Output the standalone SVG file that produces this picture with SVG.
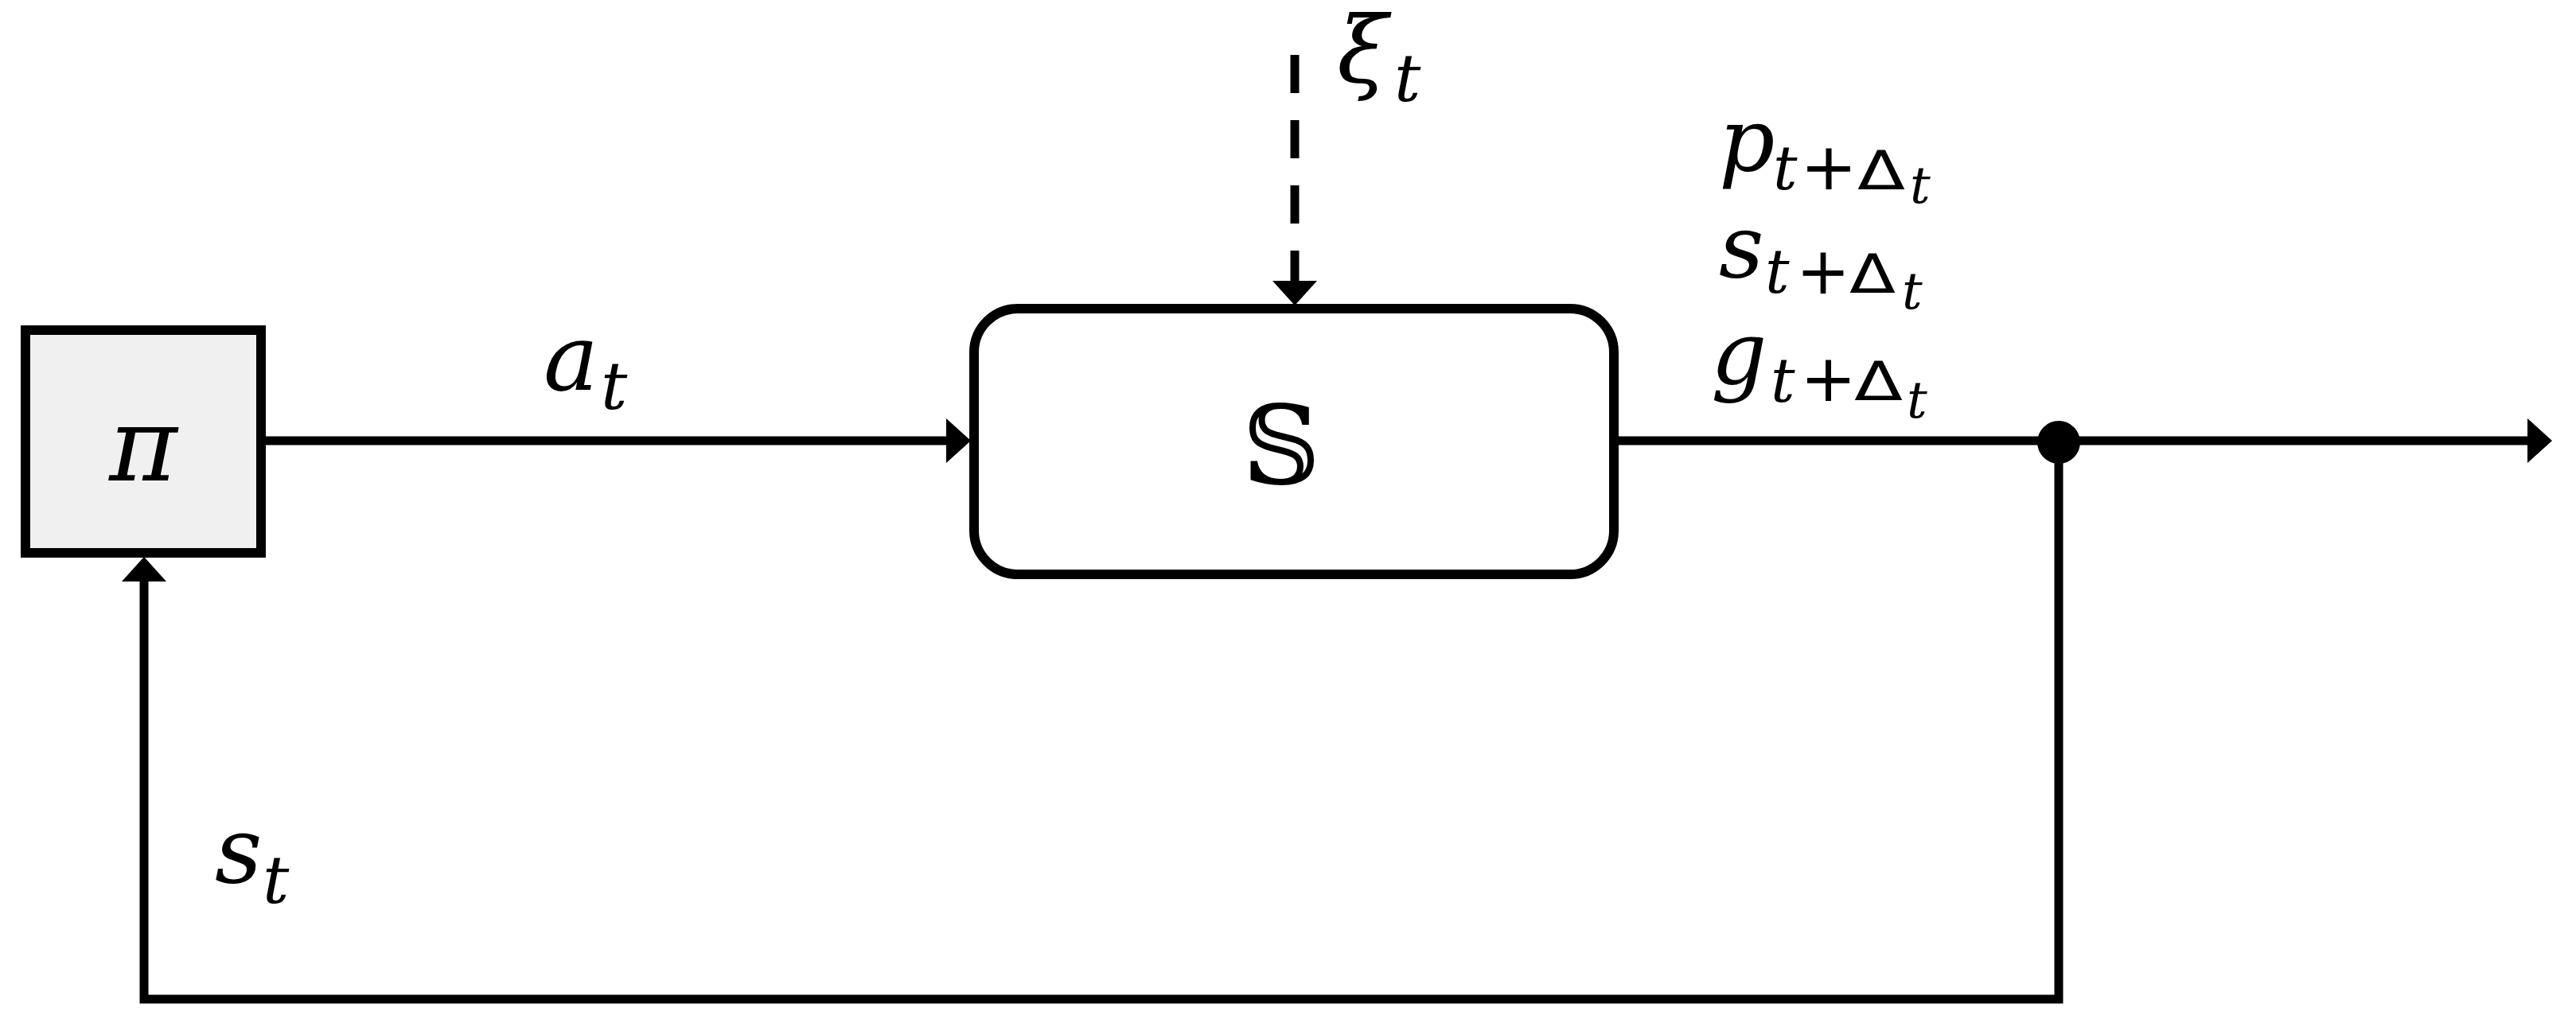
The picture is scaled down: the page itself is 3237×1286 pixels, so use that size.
<svg xmlns="http://www.w3.org/2000/svg" width="3237" height="1286" viewBox="0 0 3237 1286">
<style>
.box{stroke:#000;stroke-width:12;}
.ln{fill:none;stroke:#000;stroke-width:11;}
.m{font-family:"DejaVu Serif","Liberation Serif",serif;font-style:italic;fill:#000;}
.up{font-family:"DejaVu Sans","Liberation Sans",sans-serif;font-style:normal;fill:#000;}
.pl{font-size:82px;}
.dl{font-size:68px;}
</style>
<defs>
<marker id="ah" markerUnits="userSpaceOnUse" markerWidth="32" markerHeight="56" refX="0" refY="28" orient="auto" overflow="visible">
<path d="M0,0 L31,28 L0,56 Z" fill="#000"/>
</marker>
</defs>
<rect width="3237" height="1286" fill="#fff"/>
<g id="connectors">
<path class="ln" d="M334,554 H1189" marker-end="url(#ah)"/>
<path class="ln" d="M1627,69 V353" stroke-dasharray="48 34" marker-end="url(#ah)"/>
<path class="ln" d="M2034,554 H3176" marker-end="url(#ah)"/>
<path class="ln" d="M2587,556 V1256 H181 V731" stroke-linejoin="miter" stroke-linecap="square" marker-end="url(#ah)"/>
<circle cx="2587" cy="556" r="27" fill="#000"/>
</g>
<g id="node-pi">
<rect class="box" x="32" y="415" width="296" height="280" fill="#f0f0f0"/>
<text class="m" x="180" y="604" font-size="130" text-anchor="middle">π</text>
</g>
<g id="node-S">
<rect class="box" x="1224" y="388" width="804" height="334" rx="55" ry="55" fill="#fff"/>
<text x="1610" y="608" font-size="136" text-anchor="middle" font-family="DejaVu Serif, DejaVu Sans, Noto Sans, serif">𝕊</text>
</g>
<g id="label-a">
<text class="m" x="683" y="490" font-size="116">a</text>
<text class="m" x="755" y="514" font-size="83">t</text>
</g>
<g id="label-xi">
<text class="m" x="1680" y="103" font-size="116">ξ</text>
<text class="m" x="1752" y="127" font-size="83">t</text>
</g>
<g id="label-s">
<text class="m" x="270" y="1109" font-size="116">s</text>
<text class="m" x="330" y="1135" font-size="83">t</text>
</g>
<g id="label-outputs">
<text class="m" x="2160" y="214" font-size="110">p</text>
<text class="m" x="2228" y="238" font-size="76">t</text>
<text class="up pl" x="2262" y="238" textLength="72" lengthAdjust="spacingAndGlyphs">+</text>
<text class="up dl" x="2334" y="238" textLength="60" lengthAdjust="spacingAndGlyphs">Δ</text>
<text class="m" x="2400" y="255" font-size="64">t</text>

<text class="m" x="2160" y="348" font-size="110">s</text>
<text class="m" x="2218" y="368" font-size="76">t</text>
<text class="up pl" x="2257" y="369" textLength="68" lengthAdjust="spacingAndGlyphs">+</text>
<text class="up dl" x="2324" y="368" textLength="58" lengthAdjust="spacingAndGlyphs">Δ</text>
<text class="m" x="2390" y="388" font-size="64">t</text>

<text class="m" x="2150" y="482" font-size="110">g</text>
<text class="m" x="2225" y="505" font-size="76">t</text>
<text class="up pl" x="2262" y="504" textLength="71" lengthAdjust="spacingAndGlyphs">+</text>
<text class="up dl" x="2330" y="503" textLength="61" lengthAdjust="spacingAndGlyphs">Δ</text>
<text class="m" x="2396" y="525" font-size="64">t</text>
</g>
</svg>
